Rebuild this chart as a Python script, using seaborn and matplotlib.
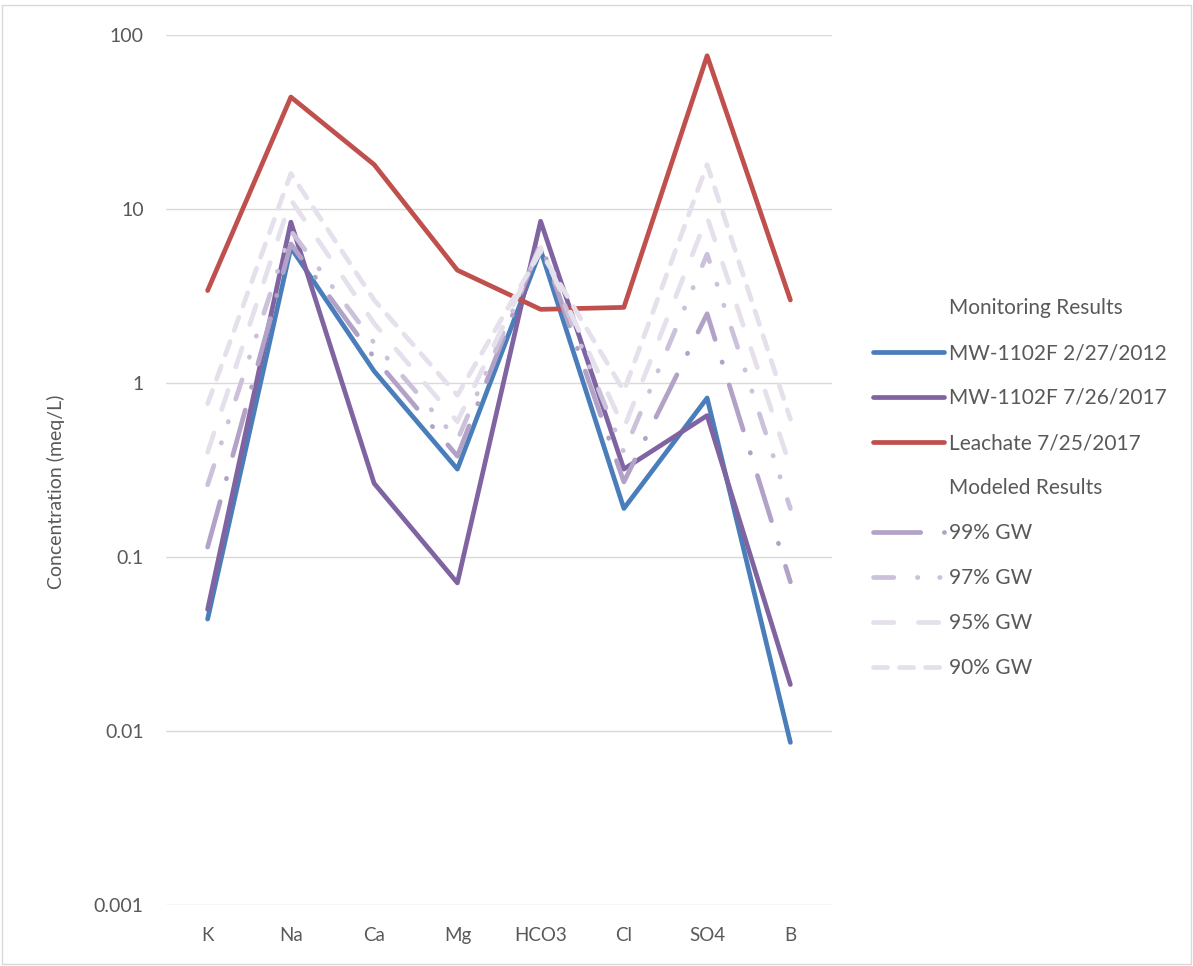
import numpy as np
import pandas as pd
import seaborn as sns
import matplotlib.pyplot as plt
from matplotlib.lines import Line2D
from matplotlib.patches import Rectangle
from matplotlib.ticker import NullLocator

# Data (meq/L)
ions = ['K', 'Na', 'Ca', 'Mg', 'HCO3', 'Cl', 'SO4', 'B']

mw_2012 = [0.044, 6.0, 1.17, 0.32, 5.8, 0.19, 0.82, 0.0086]
mw_2017 = [0.050, 8.4, 0.265, 0.071, 8.5, 0.32, 0.65, 0.0185]
leachate = [3.4, 44.0, 18.0, 4.45, 2.65, 2.72, 76.0, 3.0]
gw_99 = [0.114, 6.3, 1.4, 0.38, 6.4, 0.27, 2.5, 0.072]
gw_97 = [0.26, 7.5, 1.7, 0.47, 6.2, 0.40, 5.5, 0.19]
gw_95 = [0.40, 11.3, 2.2, 0.60, 6.0, 0.55, 9.0, 0.33]
gw_90 = [0.76, 16.0, 3.0, 0.85, 5.7, 0.90, 18.0, 0.62]

names = ['MW-1102F 2/27/2012', 'MW-1102F 7/26/2017', 'Leachate 7/25/2017',
         '99% GW', '97% GW', '95% GW', '90% GW']
series = [mw_2012, mw_2017, leachate, gw_99, gw_97, gw_95, gw_90]

df = pd.concat([pd.DataFrame({'ion': ions, 'value': vals, 'series': name})
                for name, vals in zip(names, series)], ignore_index=True)

palette = {
    'MW-1102F 2/27/2012': '#4A7EBB',
    'MW-1102F 7/26/2017': '#8064A2',
    'Leachate 7/25/2017': '#C0504D',
    '99% GW': '#B3A2C7',
    '97% GW': '#CCC1DA',
    '95% GW': '#E5E0EC',
    '90% GW': '#E5E0EC',
}
dashes = {
    'MW-1102F 2/27/2012': '',
    'MW-1102F 7/26/2017': '',
    'Leachate 7/25/2017': '',
    '99% GW': (10.0, 5.0, 0.1, 5.0),
    '97% GW': (4.3, 5.0, 0.1, 4.6, 0.1, 5.0),
    '95% GW': (4.3, 5.2),
    '90% GW': (3.0, 2.5),
}

sns.set_style('white')
plt.rcParams['font.family'] = ['Lato', 'DejaVu Sans']
text_color = '#595959'

fig = plt.figure(figsize=(11.93, 9.66), dpi=100)
ax = fig.add_axes([166 / 1193, 1 - 905 / 966, (832 - 166) / 1193, (905 - 35) / 966])

sns.lineplot(data=df, x='ion', y='value', hue='series', style='series',
             hue_order=names, style_order=names, palette=palette, dashes=dashes,
             sort=False, estimator=None, linewidth=3.4, legend=False, ax=ax,
             solid_capstyle='round', dash_capstyle='round')

ax.set_yscale('log')
ax.set_ylim(0.001, 100)
ax.set_xlim(-0.5, len(ions) - 0.5)
yt = [0.001, 0.01, 0.1, 1, 10, 100]
ax.set_yticks(yt)
ax.set_yticklabels(['0.001', '0.01', '0.1', '1', '10', '100'])
ax.yaxis.set_minor_locator(NullLocator())
ax.grid(axis='y', color='#D9D9D9', linewidth=1.0)
ax.grid(axis='x', visible=False)
ax.set_axisbelow(True)
for s in ax.spines.values():
    s.set_visible(False)
ax.tick_params(axis='both', length=0, colors=text_color)
ax.tick_params(axis='y', pad=16, labelsize=14)
ax.tick_params(axis='x', pad=16, labelsize=13.5)
ax.set_xlabel('')
ax.set_ylabel('Concentration (meq/L)', fontsize=14, color=text_color)
ax.yaxis.set_label_coords(-0.152, 0.475)

# Legend with group headings
blank = Line2D([], [], color='none')
lines = ax.get_lines()
handles = [blank, lines[0], lines[1], lines[2], blank, lines[3], lines[4], lines[5], lines[6]]
labels = ['Monitoring Results', names[0], names[1], names[2],
          'Modeled Results', names[3], names[4], names[5], names[6]]
leg = fig.legend(handles, labels, loc='upper left',
                 bbox_to_anchor=(873 / 1193, 1 - 298 / 966),
                 frameon=False, fontsize=15, handlelength=3.4,
                 handletextpad=0.25, labelspacing=1.2, borderpad=0,
                 borderaxespad=0)
for t in leg.get_texts():
    t.set_color(text_color)

fig.patches.append(Rectangle((0.002, 0.002), 0.996, 0.993, transform=fig.transFigure,
                             fill=False, edgecolor='#D9D9D9', linewidth=1.0))

fig.savefig('out.png', dpi=100)
